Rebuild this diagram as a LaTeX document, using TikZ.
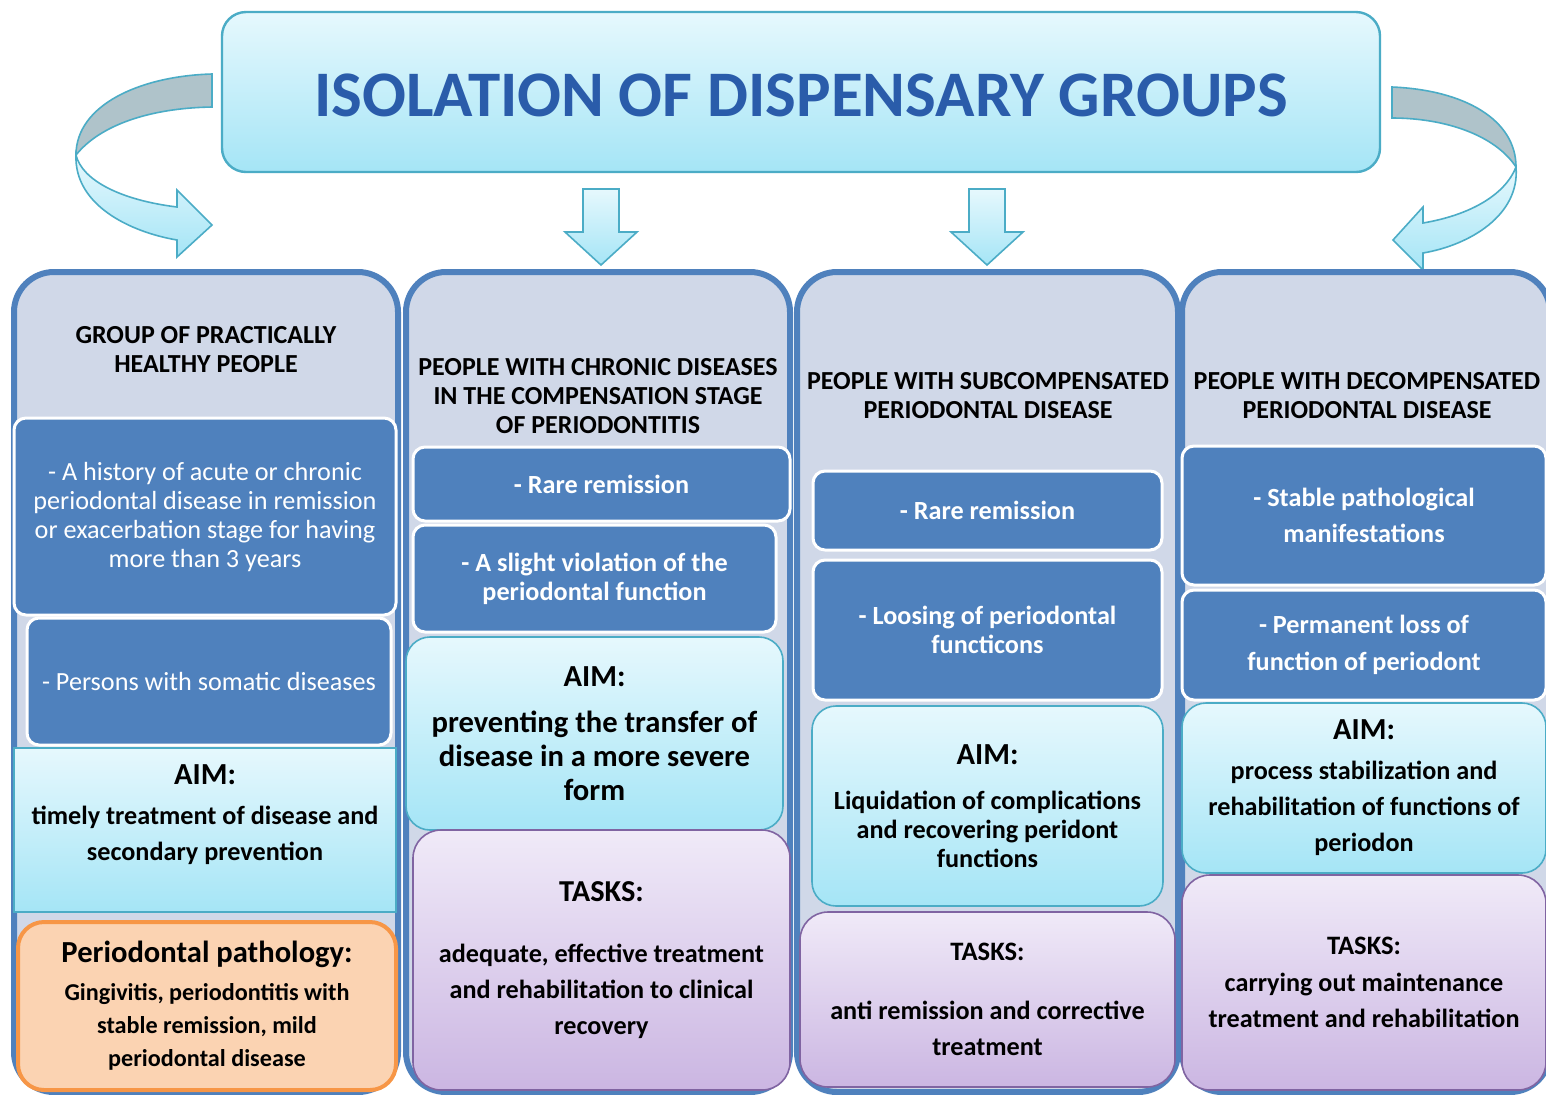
\documentclass[tikz,border=0pt]{standalone}
\usepackage{fontspec}
\setmainfont{Carlito}
\usetikzlibrary{positioning,calc}

\definecolor{colfill}{HTML}{D0D8E8}
\definecolor{colline}{HTML}{4F81BD}
\definecolor{bluefill}{HTML}{4F81BD}
\definecolor{aimtop}{HTML}{E6F8FD}
\definecolor{aimbot}{HTML}{A5E5F6}
\definecolor{aimline}{HTML}{4BACC6}
\definecolor{tasktop}{HTML}{F0EAF8}
\definecolor{taskbot}{HTML}{CBB6E2}
\definecolor{taskline}{HTML}{8064A2}
\definecolor{pathfill}{HTML}{FBD3B2}
\definecolor{pathline}{HTML}{F79646}
\definecolor{titleink}{HTML}{2A5CAA}
\definecolor{foldgray}{HTML}{AFC3CA}

\newcommand\fsz[2]{\fontsize{#1}{#2}\selectfont}

\begin{document}
\begin{tikzpicture}[x=0.5pt, y=-0.5pt,
  sz/.style 2 args={minimum width=#1*0.5pt, minimum height=#2*0.5pt},
  titlebox/.style={draw=aimline, line width=1.2pt, top color=aimtop, bottom color=aimbot,
                   rounded corners=12pt, text=titleink, font=\fsz{32.5}{36}\bfseries},
  colbox/.style={draw=colline, line width=3pt, fill=colfill, rounded corners=20pt, inner sep=0pt},
  hdr/.style={align=center, font=\fsz{13}{14.5}\bfseries},
  bluebox/.style={draw=white, line width=1.5pt, fill=bluefill, rounded corners=6pt, text=white,
                  align=center, inner sep=0pt, font=\fsz{13.1}{14.5}\bfseries},
  aimbox/.style={draw=aimline, line width=0.8pt, top color=aimtop, bottom color=aimbot,
                 rounded corners=12pt, align=center, inner sep=0pt},
  taskbox/.style={draw=taskline, line width=0.8pt, top color=tasktop, bottom color=taskbot,
                  rounded corners=14pt, align=center, inner sep=0pt},
  pathbox/.style={draw=pathline, line width=2pt, fill=pathfill, rounded corners=13pt,
                  align=center, inner sep=0pt},
  arrowpart/.style={draw=aimline, line width=0.8pt, top color=aimtop, bottom color=aimbot},
  foldpart/.style={draw=aimline, line width=0.8pt, fill=foldgray},
]
\fill[white] (0,0) rectangle (1546,1094);
\useasboundingbox (0,0) rectangle (1546,1094);

% title
\node[titlebox, sz={1158}{160}, text height=25pt] (ttl) at (801,92) {ISOLATION OF DISPENSARY GROUPS};

% curved arrows to the outer groups
\draw[foldpart] (212,74) .. controls (140,76) and (76,105) .. (76,155)
  .. controls (100,125) and (150,108) .. (212,107) -- cycle;
\draw[arrowpart] (76,155) .. controls (74,205) and (130,232) .. (177,240) -- (177,257) -- (212,225)
  -- (177,190) -- (177,207) .. controls (120,200) and (82,180) .. (76,155) -- cycle;
\draw[foldpart] (1392,87) .. controls (1465,90) and (1516,120) .. (1516,167)
  .. controls (1495,135) and (1445,118) .. (1392,118) -- cycle;
\draw[arrowpart] (1516,167) .. controls (1520,215) and (1470,245) .. (1423,253) -- (1423,270) -- (1393,240)
  -- (1423,207) -- (1423,223) .. controls (1470,215) and (1505,195) .. (1516,167) -- cycle;

% straight arrows to the middle groups
\foreach \cx in {601,987}
  \draw[arrowpart] (\cx-18,189) -- (\cx+18,189) -- (\cx+18,232) -- (\cx+36,232) -- (\cx,265)
    -- (\cx-36,232) -- (\cx-18,232) -- cycle;

% columns
\node[colbox, sz={384}{820}] (col1) at (206,682) {};
\node[colbox, sz={384}{820}] (col2) at (598,682) {};
\node[colbox, sz={381}{820}] (col3) at (987.5,682) {};
\node[colbox, sz={368}{820}] (col4) at (1366,682) {};

\node[hdr] (hd1) at (206,350) {GROUP OF PRACTICALLY\\HEALTHY PEOPLE};
\node[hdr] (hd2) at (598,396) {PEOPLE WITH CHRONIC DISEASES\\IN THE COMPENSATION STAGE\\OF PERIODONTITIS};
\node[hdr] (hd3) at (988,396) {PEOPLE WITH SUBCOMPENSATED\\PERIODONTAL DISEASE};
\node[hdr] (hd4) at (1367,396) {PEOPLE WITH DECOMPENSATED\\PERIODONTAL DISEASE};

% group 1
\node[bluebox, font=\fsz{13.1}{14.5}, sz={382}{197}] (hist) at (205,516.5)
  {- A history of acute or chronic\\periodontal disease in remission\\or exacerbation stage for having\\more than 3 years};
\node[bluebox, font=\fsz{13.1}{14.5}, sz={364}{127}] (soma) at (209,681.5) {- Persons with somatic diseases};
\node[aimbox, rounded corners=0pt, sz={382}{164}] (aim1) at (205,830) {};
\node[align=center, font=\fsz{13.1}{18}\bfseries, yshift=7.5pt] (aim1txt) at (aim1)
  {{\fsz{15.3}{18}AIM:}\\[2pt]timely treatment of disease and\\secondary prevention};
\node[pathbox, sz={378}{168}, font=\fsz{12.1}{16.5}\bfseries] (path1) at (207,1006)
  {{\fsz{15.3}{17}Periodontal pathology:}\\[2.5pt]Gingivitis, periodontitis with\\stable remission, mild\\periodontal disease};

% group 2
\node[bluebox, sz={377}{74}] (rare2) at (601.5,484) {- Rare remission};
\node[bluebox, sz={363}{107}] (viol2) at (594.5,578.5) {- A slight violation of the\\periodontal function};
\node[aimbox, sz={377}{193}, font=\fsz{15.3}{17}\bfseries] (aim2) at (594.5,733.5)
  {{\fsz{15.3}{17}AIM:}\\[6pt]preventing the transfer of\\disease in a more severe\\form};
\node[taskbox, sz={377}{260}, font=\fsz{13.1}{18}\bfseries] (task2) at (601.5,960)
  {{\fsz{15.2}{18}TASKS:}\\[12.5pt]adequate, effective treatment\\and rehabilitation to clinical\\recovery};

% group 3
\node[bluebox, sz={349}{79}] (rare3) at (987.5,510.5) {- Rare remission};
\node[bluebox, sz={349}{140}] (loss3) at (987.5,630) {- Loosing of periodontal\\functicons};
\node[aimbox, sz={351}{200}, font=\fsz{13.1}{14.5}\bfseries] (aim3) at (987.5,806)
  {{\fsz{15.3}{16}AIM:}\\[8pt]Liquidation of complications\\and recovering peridont\\functions};
\node[taskbox, sz={375}{175}, font=\fsz{13.1}{18}\bfseries] (task3) at (987.5,999.5)
  {{\fsz{13.3}{18}TASKS:}\\[11.5pt]anti remission and corrective\\treatment};

% group 4
\node[bluebox, sz={364}{139}, font=\fsz{13.1}{18}\bfseries] (stab4) at (1364,515.5) {- Stable pathological\\manifestations};
\node[bluebox, sz={364}{110}, font=\fsz{13.1}{18.5}\bfseries] (perm4) at (1364,645) {- Permanent loss of\\function of periodont};
\node[aimbox, sz={364}{170}, font=\fsz{13.1}{18}\bfseries] (aim4) at (1364,788)
  {{\fsz{15.3}{18}AIM:}\\[2pt]process stabilization and\\rehabilitation of functions of\\periodon};
\node[taskbox, sz={364}{215}, font=\fsz{13.1}{18}\bfseries] (task4) at (1364,982.5)
  {{\fsz{13.3}{18}TASKS:}\\[0.5pt]carrying out maintenance\\treatment and rehabilitation};
\end{tikzpicture}
\end{document}
